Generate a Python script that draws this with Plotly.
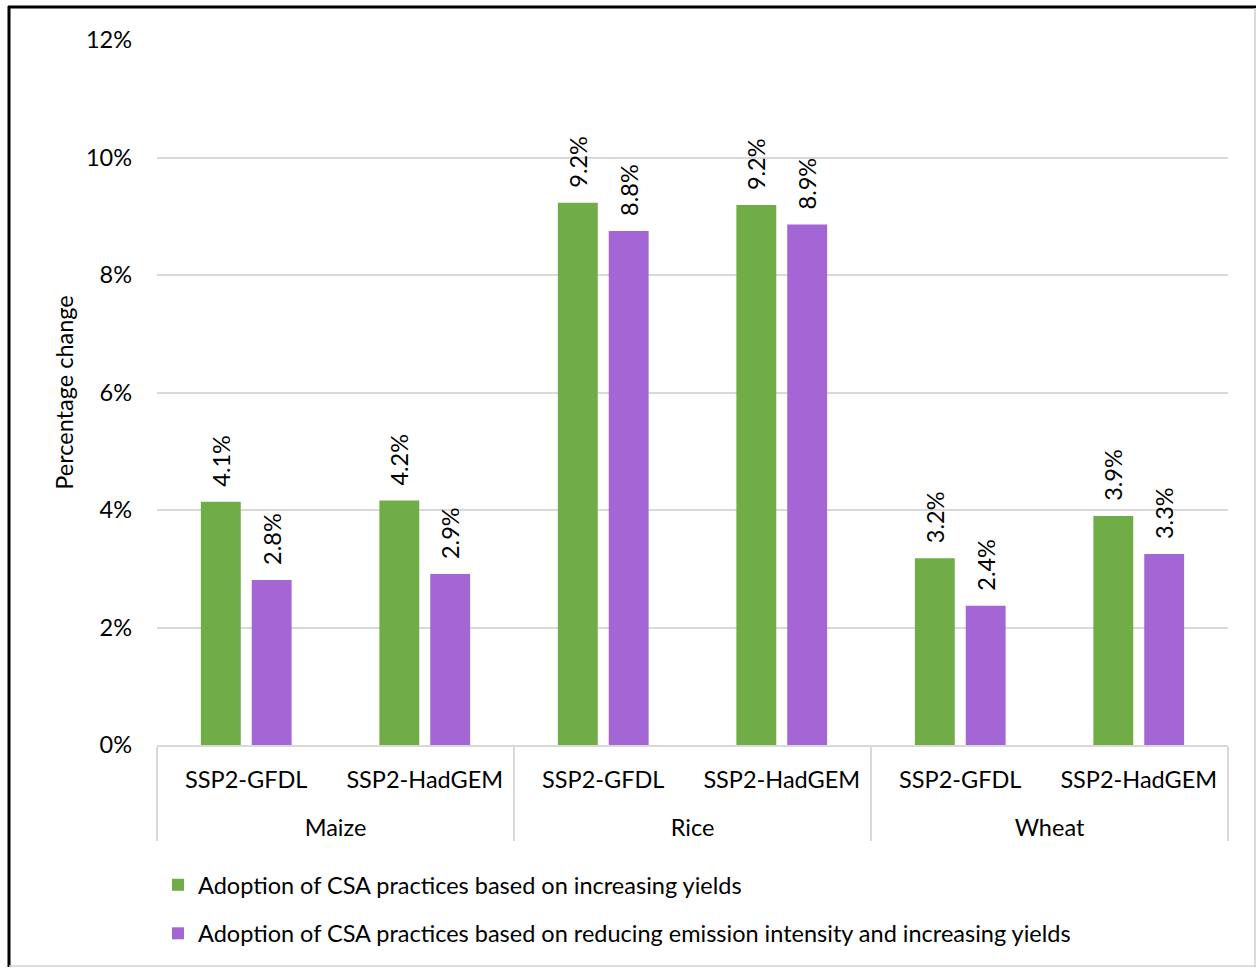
import plotly.graph_objects as go

crops = ["Maize", "Maize", "Rice", "Rice", "Wheat", "Wheat"]
scenarios = ["SSP2-GFDL", "SSP2-HadGEM"] * 3
yields_only = [0.0414, 0.0416, 0.0923, 0.0919, 0.0318, 0.0390]
emis_yields = [0.0281, 0.0291, 0.0875, 0.0886, 0.0237, 0.0325]
series_names = [
    "Adoption of CSA practices based on increasing yields",
    "Adoption of CSA practices based on reducing emission intensity and increasing yields",
]
colors = ["#70AD47", "#A366D4"]

FONT = "Lato"
FS = 23.5
crop_labels = ["<br>" + c for c in crops]

fig = go.Figure()
for name, vals, col, grp in zip(series_names, [yields_only, emis_yields], colors, ["a", "b"]):
    fig.add_trace(go.Bar(
        x=[crop_labels, scenarios], y=vals, name=name, legendgroup=grp,
        marker=dict(color=col, line=dict(width=0)),
        texttemplate="\u00a0\u00a0%{y:.1%}", textposition="outside", textangle=-90,
        constraintext="none",
        textfont=dict(family=FONT, size=FS, color="#000000"),
        cliponaxis=False,
    ))

L, R, T, B = 157, 29, 40, 223
W, H = 1257, 968
pw, ph = W - L - R, H - T - B
def px(x): return (x - L) / pw
def py(y): return (H - B - y) / ph

fig.update_layout(
    width=W, height=H,
    margin=dict(l=L, r=R, t=T, b=B, autoexpand=False),
    paper_bgcolor="white", plot_bgcolor="white",
    barmode="group", bargap=0.43, bargroupgap=0.216,
    font=dict(family=FONT, size=FS, color="#000000"),
    showlegend=True,
    legend=dict(orientation="v", x=px(158), y=py(863), xanchor="left", yanchor="top",
                font=dict(family=FONT, size=FS), tracegroupgap=15, itemwidth=30,
                bgcolor="rgba(0,0,0,0)", itemsizing="constant"),
    yaxis=dict(range=[0, 0.12], dtick=0.02, tickformat=".0%", showgrid=True,
               gridcolor="#D9D9D9", gridwidth=1.5, zeroline=False, showline=False,
               ticks="", ticklabelstandoff=24,
               title=dict(text="Percentage change", font=dict(family=FONT, size=FS), standoff=5),
               tickfont=dict(family=FONT, size=FS)),
    xaxis=dict(type="multicategory", showline=True, linecolor="#D9D9D9", linewidth=1.5,
               showdividers=True, dividercolor="#D9D9D9", dividerwidth=1.5,
               ticks="", ticklabelstandoff=13,
               tickfont=dict(family=FONT, size=FS), showgrid=False),
    shapes=[
        dict(type="line", xref="paper", yref="paper", x0=px(9), x1=px(9), y0=py(6), y1=py(967),
             line=dict(color="#000000", width=3)),
        dict(type="line", xref="paper", yref="paper", x0=px(8), x1=px(1256), y0=py(7), y1=py(7),
             line=dict(color="#000000", width=3)),
        dict(type="line", xref="paper", yref="paper", x0=px(1255), x1=px(1255), y0=py(8), y1=py(967),
             line=dict(color="#D0D0D0", width=1.5)),
        dict(type="line", xref="paper", yref="paper", x0=px(9), x1=px(1256), y0=py(966), y1=py(966),
             line=dict(color="#D0D0D0", width=1.5)),
    ],
)

fig.write_html("out.html")
